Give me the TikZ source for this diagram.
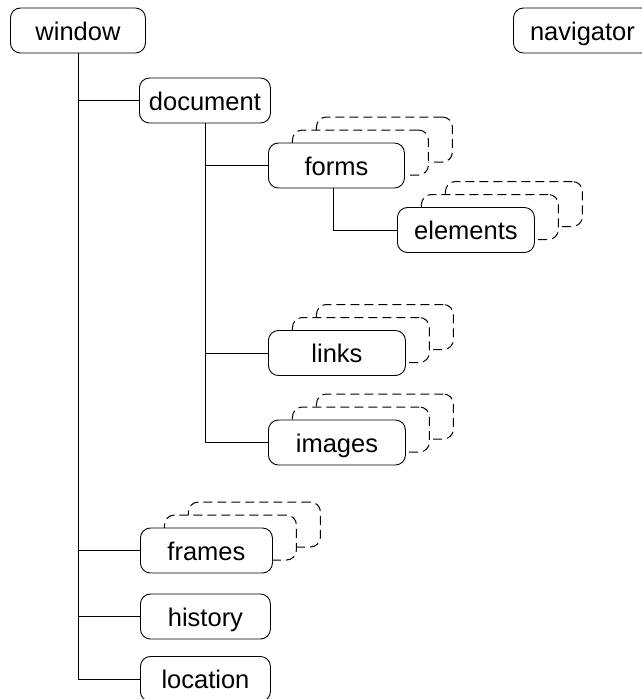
\documentclass[tikz,border=0pt]{standalone}
\usepackage{fontspec}
\setmainfont{Liberation Sans}
\usetikzlibrary{shadows}
\tikzset{
  obj/.style={draw, rounded corners=10pt, fill=white, minimum height=45pt,
    inner sep=0pt, anchor=west, text height=19pt, text depth=0pt,
    font=\fontsize{25.5}{30}\selectfont, line width=0.9pt},
  multi/.style={double copy shadow={shadow xshift=24pt, shadow yshift=13pt,
    draw=black, opacity=1, fill=white, solid, dash pattern=on 9pt off 5pt,
    line width=1pt}},
  link/.style={line width=0.9pt}
}
\begin{document}
\begin{tikzpicture}[x=1pt,y=-1pt]
\useasboundingbox (0,0) rectangle (642,699);

% object nodes
\node[obj, minimum width=135pt] (window) at (10,30.5) {window};
\node[obj, minimum width=138pt] (navigator) at (513,30.5) {navigator};
\node[obj, minimum width=131pt] (document) at (139,100.5) {document};
\node[obj, multi, minimum width=136pt] (forms) at (268,165.5) {forms};
\node[obj, multi, minimum width=137pt] (elements) at (397,230) {elements};
\node[obj, multi, minimum width=137pt] (links) at (268,353) {links};
\node[obj, multi, minimum width=137pt] (images) at (268,442.5) {images};
\node[obj, multi, minimum width=132pt] (frames) at (140,550.5) {frames};
\node[obj, minimum width=130pt] (history) at (140,616.5) {history};
\node[obj, minimum width=130pt] (location) at (140,679) {location};

% containment tree
\draw[link] (window.south) |- (document.west);
\draw[link] (window.south) |- (frames.west);
\draw[link] (window.south) |- (history.west);
\draw[link] (window.south) |- (location.west);
\draw[link] (document.south) |- (forms.west);
\draw[link] (document.south) |- (links.west);
\draw[link] (document.south) |- (images.west);
\draw[link] ([xshift=-3pt]forms.south) |- (elements.west);
\end{tikzpicture}
\end{document}
